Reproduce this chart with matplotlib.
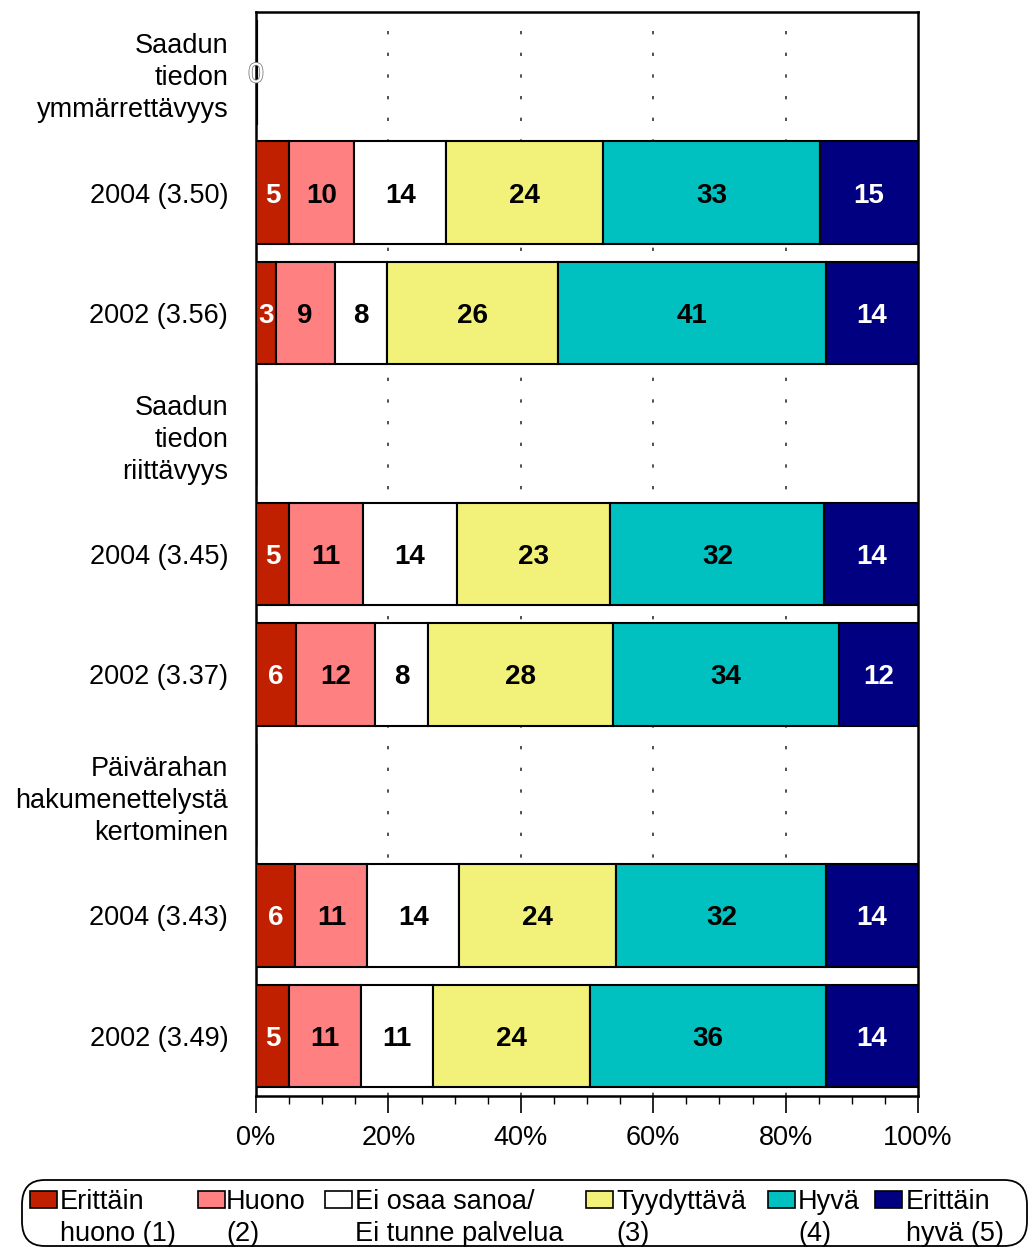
import numpy as np
import matplotlib
matplotlib.use("Agg")
import matplotlib.pyplot as plt
from matplotlib.patches import FancyBboxPatch, Rectangle
from matplotlib.ticker import MultipleLocator, FuncFormatter
import matplotlib.patheffects as pe

plt.rcParams['font.family'] = ['Liberation Sans', 'DejaVu Sans']

# rows, top to bottom (header rows carry no values)
rows = ['Saadun\ntiedon\nymmärrettävyys', '2004 (3.50)', '2002 (3.56)',
        'Saadun\ntiedon\nriittävyys', '2004 (3.45)', '2002 (3.37)',
        'Päivärahan\nhakumenettelystä\nkertominen', '2004 (3.43)', '2002 (3.49)']

erittain_huono = [0, 5, 3, 0, 5, 6, 0, 6, 5]
huono = [0, 10, 9, 0, 11, 12, 0, 11, 11]
ei_osaa = [0, 14, 8, 0, 14, 8, 0, 14, 11]
tyydyttava = [0, 24, 26, 0, 23, 28, 0, 24, 24]
hyva = [0, 33, 41, 0, 32, 34, 0, 32, 36]
erittain_hyva = [0, 15, 14, 0, 14, 12, 0, 14, 14]

series = [erittain_huono, huono, ei_osaa, tyydyttava, hyva, erittain_hyva]
legend_labels = ['Erittäin\nhuono (1)', 'Huono\n(2)', 'Ei osaa sanoa/\nEi tunne palvelua',
                 'Tyydyttävä\n(3)', 'Hyvä\n(4)', 'Erittäin\nhyvä (5)']
colors = ['#C02000', '#FF8080', '#FFFFFF', '#F2F27A', '#00C0C0', '#000080']
text_colors = ['white', 'black', 'black', 'black', 'black', 'white']

W, H = 1029, 1247
fig = plt.figure(figsize=(W / 100, H / 100), dpi=100)
ax = fig.add_axes([256 / W, 1 - 1096 / H, (918 - 256) / W, (1096 - 12) / H])

vals = np.array(series, dtype=float)
totals = vals.sum(axis=0)
y = np.arange(len(rows))

left = np.zeros(len(rows))
for s, col, tcol in zip(vals, colors, text_colors):
    pct = np.where(totals > 0, s / np.where(totals > 0, totals, 1) * 100, 0)
    ax.barh(y, pct, left=left, height=0.85, color=col, edgecolor='black',
            linewidth=1.5, zorder=3)
    for yi, p, v, l in zip(y, pct, s, left):
        if v > 0:
            ax.text(l + p / 2, yi, f'{int(v)}', ha='center', va='center_baseline',
                    fontsize=20, fontweight='bold', color=tcol, zorder=4)
    left += pct

# empty first header row shows a zero-width bar with its label
ax.barh([0], [0], height=0.87, color='black', edgecolor='black', linewidth=3, zorder=3)
ax.text(0, 0, '0', ha='center', va='center_baseline', fontsize=20, color='white',
        zorder=4, path_effects=[pe.withStroke(linewidth=1.2, foreground='#808080')])

ax.set_xlim(0, 100)
ax.set_ylim(len(rows) - 0.5, -0.5)
ax.set_yticks(y)
ax.set_yticklabels(rows, fontsize=19.5, ha='right', linespacing=1.3)
ax.tick_params(axis='y', length=0, pad=20)

ax.xaxis.set_major_locator(MultipleLocator(20))
ax.xaxis.set_minor_locator(MultipleLocator(5))
ax.xaxis.set_major_formatter(FuncFormatter(lambda v, _: f'{int(v)}%'))
ax.tick_params(axis='x', which='major', length=12, width=1.2, labelsize=19.5, pad=9)
ax.tick_params(axis='x', which='minor', length=6, width=1)

for gx in [20, 40, 60, 80]:
    ax.axvline(gx, color='#333333', linewidth=1.2, linestyle=(0, (2, 11)), zorder=1)

for sp in ax.spines.values():
    sp.set_linewidth(1.8)
    sp.set_color('black')

# legend box at the bottom
box = FancyBboxPatch((22 / W, 1 - 1246 / H), (1027 - 22) / W, (1246 - 1180) / H,
                     boxstyle='round,pad=0,rounding_size=0.022',
                     transform=fig.transFigure, facecolor='white',
                     edgecolor='black', linewidth=1.3, mutation_aspect=0.9)
fig.add_artist(box)

patch_x = [30, 198, 325, 586, 768, 875]
text_x = [60, 226, 355, 616, 798, 906]
for px, tx, col, lab in zip(patch_x, text_x, colors, legend_labels):
    fig.add_artist(Rectangle((px / W, 1 - 1208 / H), 27 / W, 17 / H,
                             transform=fig.transFigure, facecolor=col,
                             edgecolor='black', linewidth=1.2))
    fig.text(tx / W, 1 - 1189 / H, lab, ha='left', va='top', fontsize=19.5,
             linespacing=1.3)

fig.savefig('out.png', dpi=100)
